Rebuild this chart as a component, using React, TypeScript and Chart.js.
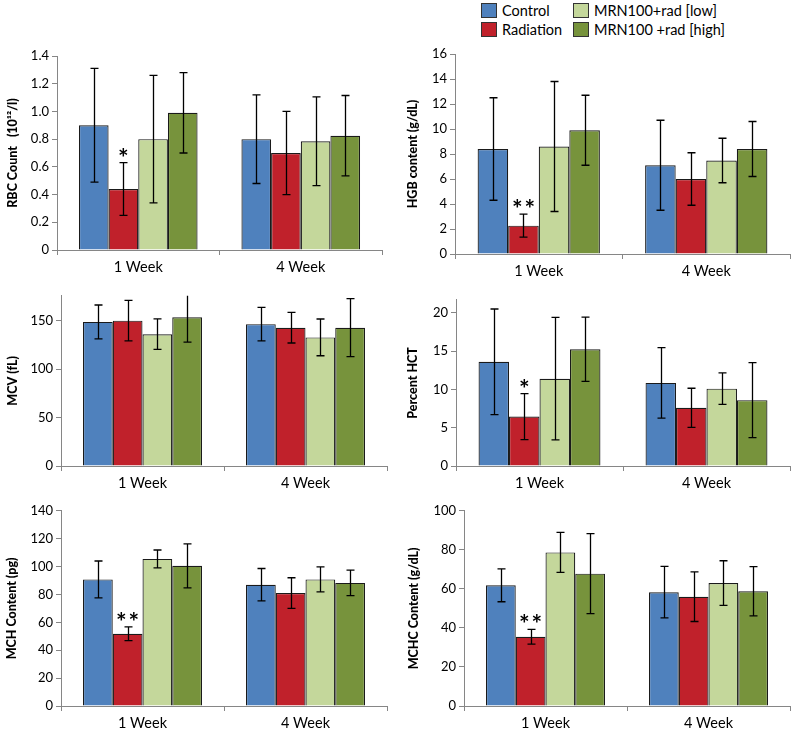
import React, { useEffect, useRef } from "react";
import { Chart, registerables } from "chart.js";

Chart.register(...registerables);

const categories = ["1 Week", "4 Week"];
const seriesNames = ["Control", "Radiation", "MRN100+rad [low]", "MRN100 +rad [high]"];
const seriesColors = ["#4f81bd", "#c0212b", "#c4d79b", "#77933c"];

// [series][category]
const rbcMeans = [[0.9, 0.8], [0.44, 0.7], [0.8, 0.785], [0.99, 0.825]];
const rbcErrors = [[0.41, 0.32], [0.19, 0.3], [0.46, 0.32], [0.29, 0.29]];
const rbcStars = [["", ""], ["*", ""], ["", ""], ["", ""]];

const hgbMeans = [[8.4, 7.1], [2.27, 6.0], [8.6, 7.48], [9.9, 8.4]];
const hgbErrors = [[4.1, 3.6], [0.92, 2.1], [5.2, 1.78], [2.8, 2.2]];
const hgbStars = [["", ""], ["**", ""], ["", ""], ["", ""]];

const mcvMeans = [[149, 146.7], [150.3, 143], [136.3, 133], [153.7, 143]];
const mcvErrors = [[17.5, 17.4], [21, 15.8], [15.8, 19], [25.7, 30]];
const mcvStars = [["", ""], ["", ""], ["", ""], ["", ""]];

const hctMeans = [[13.6, 10.85], [6.45, 7.6], [11.4, 10.1], [15.25, 8.6]];
const hctErrors = [[6.9, 4.6], [3.0, 2.55], [8.0, 2.05], [4.2, 4.9]];
const hctStars = [["", ""], ["*", ""], ["", ""], ["", ""]];

const mchMeans = [[90.8, 87.0], [51.8, 81.0], [105.5, 90.8], [100.5, 88.3]];
const mchErrors = [[13.2, 11.6], [4.9, 11.0], [6.4, 9.0], [15.8, 9.2]];
const mchStars = [["", ""], ["**", ""], ["", ""], ["", ""]];

const mchcMeans = [[61.8, 58.3], [35.5, 56.0], [78.7, 63.0], [67.8, 58.8]];
const mchcErrors = [[8.4, 13.2], [3.8, 12.7], [10.2, 11.4], [20.5, 12.6]];
const mchcStars = [["", ""], ["**", ""], ["", ""], ["", ""]];

const FONT = "Lato";
const AXIS_COLOR = "#868686";

type PanelDef = {
  title: string;
  means: number[][];
  errors: number[][];
  stars: string[][];
  max: number;
  step: number;
  cx: number; cy: number; cw: number; ch: number;
  L: number; R: number; T: number; B: number;
  titleX: number;
};

const panels: PanelDef[] = [
  { title: "RBC Count   (10¹²/l)", means: rbcMeans, errors: rbcErrors, stars: rbcStars, max: 1.4, step: 0.2,
    cx: 0, cy: 40, cw: 397, ch: 245, L: 57, R: 382, T: 56, B: 250, titleX: 13 },
  { title: "HGB content (g/dL)", means: hgbMeans, errors: hgbErrors, stars: hgbStars, max: 16, step: 2,
    cx: 397, cy: 40, cw: 398, ch: 249, L: 455, R: 790, T: 54, B: 254, titleX: 16 },
  { title: "MCV (fL)", means: mcvMeans, errors: mcvErrors, stars: mcvStars, max: 176, step: 50,
    cx: 0, cy: 285, cw: 397, ch: 215, L: 61, R: 387, T: 290, B: 466, titleX: 13 },
  { title: "Percent HCT", means: hctMeans, errors: hctErrors, stars: hctStars, max: 21.7, step: 5,
    cx: 397, cy: 289, cw: 398, ch: 211, L: 456, R: 790, T: 293, B: 466, titleX: 16 },
  { title: "MCH Content (pg)", means: mchMeans, errors: mchErrors, stars: mchStars, max: 140, step: 20,
    cx: 0, cy: 500, cw: 397, ch: 233, L: 61, R: 387, T: 507, B: 706, titleX: 12 },
  { title: "MCHC Content (g/dL)", means: mchcMeans, errors: mchcErrors, stars: mchcStars, max: 100, step: 20,
    cx: 397, cy: 500, cw: 398, ch: 233, L: 464, R: 790, T: 507, B: 706, titleX: 17 },
];

const errorBarPlugin = {
  id: "errorBars",
  afterDatasetsDraw(chart: any) {
    const ctx = chart.ctx;
    const y = chart.scales.y;
    const area = chart.chartArea;
    ctx.save();
    ctx.beginPath();
    ctx.rect(area.left, area.top, area.right - area.left, area.bottom - area.top + 2);
    ctx.clip();
    ctx.strokeStyle = "#000";
    ctx.lineWidth = 1.3;
    chart.data.datasets.forEach((ds: any, di: number) => {
      const meta = chart.getDatasetMeta(di);
      meta.data.forEach((bar: any, i: number) => {
        const v = ds.data[i];
        const e = ds.errors[i];
        const x = Math.round(bar.x) + 0.5;
        const yt = y.getPixelForValue(v + e);
        const yb = y.getPixelForValue(v - e);
        ctx.beginPath();
        ctx.moveTo(x, yt);
        ctx.lineTo(x, yb);
        ctx.moveTo(x - 4, yt);
        ctx.lineTo(x + 4, yt);
        ctx.moveTo(x - 4, yb);
        ctx.lineTo(x + 4, yb);
        ctx.stroke();
      });
    });
    ctx.restore();
    ctx.save();
    ctx.fillStyle = "#000";
    ctx.font = `bold 25px ${FONT}`;
    ctx.textAlign = "center";
    ctx.textBaseline = "alphabetic";
    chart.data.datasets.forEach((ds: any, di: number) => {
      const meta = chart.getDatasetMeta(di);
      meta.data.forEach((bar: any, i: number) => {
        const s = ds.stars[i];
        if (!s) return;
        const yt = y.getPixelForValue(ds.data[i] + ds.errors[i]);
        const n = s.length;
        for (let k = 0; k < n; k++) {
          const x = bar.x + (k - (n - 1) / 2) * 12.5;
          ctx.fillText("*", x, yt + 4);
        }
      });
    });
    ctx.restore();
  },
};

function Panel({ p }: { p: PanelDef }) {
  const ref = useRef<HTMLCanvasElement>(null);
  useEffect(() => {
    const chart = new Chart(ref.current as HTMLCanvasElement, {
      type: "bar",
      data: {
        labels: categories,
        datasets: seriesNames.map((n, s) => ({
          label: n,
          data: p.means[s],
          errors: p.errors[s],
          stars: p.stars[s],
          backgroundColor: seriesColors[s],
          borderColor: "#1a1a1a",
          borderWidth: 1.2,
          categoryPercentage: 0.73,
          barPercentage: 1,
        })) as any,
      },
      options: {
        responsive: false,
        animation: false,
        devicePixelRatio: 1,
        layout: { padding: { top: p.T - p.cy, left: 0, right: p.cx + p.cw - p.R, bottom: 0 } },
        plugins: { legend: { display: false }, tooltip: { enabled: false } },
        scales: {
          x: {
            afterFit: (s: any) => { s.height = p.cy + p.ch - p.B; },
            grid: { display: true, drawOnChartArea: false, offset: true, tickLength: 5, color: AXIS_COLOR },
            border: { color: AXIS_COLOR },
            ticks: { color: "#000", font: { family: FONT, size: 14.5 }, padding: 4 },
          },
          y: {
            min: 0,
            max: p.max,
            afterBuildTicks: (s: any) => {
              const t: { value: number }[] = [];
              const n = Math.floor(p.max / p.step + 1e-6);
              for (let k = 0; k <= n; k++) t.push({ value: +(k * p.step).toFixed(6) });
              s.ticks = t;
            },
            afterFit: (s: any) => { s.width = p.L - p.cx; },
            ticks: { stepSize: p.step, color: "#000", font: { family: FONT, size: 13 }, padding: 3 },
            grid: { drawOnChartArea: false, tickLength: 5, color: AXIS_COLOR },
            border: { color: AXIS_COLOR },
            title: {
              display: true,
              text: p.title,
              color: "#000",
              font: { family: FONT, size: 12.5, weight: "900" },
              padding: { top: p.titleX - 7.5, bottom: 0 },
            },
          },
        },
      } as any,
      plugins: [errorBarPlugin],
    });
    return () => chart.destroy();
  }, [p]);
  return (
    <canvas
      ref={ref}
      width={p.cw}
      height={p.ch}
      style={{ position: "absolute", left: p.cx, top: p.cy, width: p.cw, height: p.ch }}
    />
  );
}

function LegendItem({ x, y, color, label }: { x: number; y: number; color: string; label: string }) {
  return (
    <div style={{ position: "absolute", left: x, top: y, display: "flex", alignItems: "center", whiteSpace: "nowrap" }}>
      <div style={{ width: 14, height: 13, background: color, border: "1px solid #333", marginRight: 5 }} />
      <span style={{ fontFamily: FONT, fontSize: 14.5, color: "#000", lineHeight: "15px" }}>{label}</span>
    </div>
  );
}

export default function App() {
  const legendPos = [
    { x: 481, y: 3 },
    { x: 481, y: 22 },
    { x: 573, y: 3 },
    { x: 573, y: 22 },
  ];
  return (
    <div style={{ position: "absolute", left: 0, top: 0, width: 795, height: 733, background: "#fff", overflow: "hidden" }}>
      {seriesNames.map((n, i) => (
        <LegendItem key={n} x={legendPos[i].x} y={legendPos[i].y} color={seriesColors[i]} label={n} />
      ))}
      {panels.map((p, i) => (
        <Panel key={i} p={p} />
      ))}
    </div>
  );
}
